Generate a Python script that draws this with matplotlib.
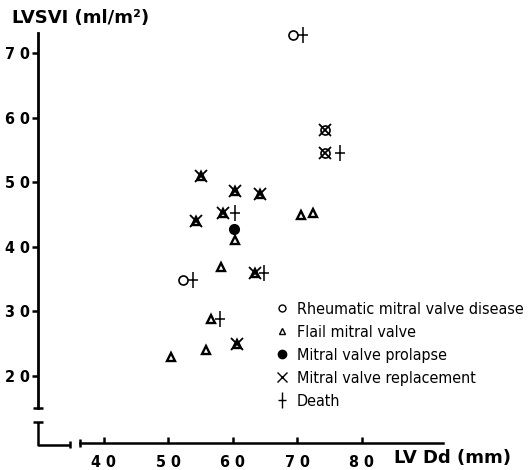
import numpy as np
import matplotlib
matplotlib.use('Agg')
import matplotlib.pyplot as plt
from matplotlib.path import Path
from matplotlib.lines import Line2D

plt.rcParams['font.family'] = ['DejaVu Sans']
plt.rcParams['font.stretch'] = 'condensed'

# data (LVDd mm, LVSVI ml/m2)
rheum_x = [69.3, 52.2, 74.3, 74.3]
rheum_y = [72.8, 34.9, 58.1, 54.5]

flail_x = [55.0, 60.3, 64.2, 58.5, 54.2, 60.3, 70.5, 72.4, 58.2, 63.4, 56.6, 55.8, 60.6, 50.4]
flail_y = [50.9, 48.7, 48.1, 45.2, 44.0, 41.1, 44.9, 45.2, 36.9, 36.0, 28.9, 24.0, 24.95, 22.9]

prolapse_x = [60.2]
prolapse_y = [42.7]

repl_x = [74.3, 74.3, 55.0, 60.3, 64.2, 58.5, 54.2, 63.4, 60.6]
repl_y = [58.1, 54.5, 50.9, 48.7, 48.1, 45.2, 44.0, 36.0, 24.95]

death_x = [70.9, 76.6, 60.3, 64.8, 53.8, 58.0]
death_y = [72.8, 54.5, 45.2, 36.0, 34.9, 28.9]

xticks = [40, 50, 60, 70, 80]
yticks = [20, 30, 40, 50, 60, 70]
labels = ['Rheumatic mitral valve disease', 'Flail mitral valve',
          'Mitral valve prolapse', 'Mitral valve replacement', 'Death']

# death sign: long vertical, short bar
death_mk = Path([(0, -1), (0, 1), (-0.55, 0.05), (0.55, 0.05)],
                [Path.MOVETO, Path.LINETO, Path.MOVETO, Path.LINETO])

fig = plt.figure(figsize=(5.28, 4.70), dpi=100)
ax = fig.add_axes([0, 0, 1, 1])
ax.set_xlim(23.876, 105.74)
ax.set_ylim(5.449, 78.204)

ax.plot(rheum_x, rheum_y, 'o', ms=6.5, mfc='white', mec='black', mew=1.2, ls='none')
ax.plot(flail_x, flail_y, '^', ms=5.5, mfc='white', mec='black', mew=1.7, ls='none')
ax.plot(prolapse_x, prolapse_y, 'o', ms=7, color='black', ls='none')
ax.plot(repl_x, repl_y, 'x', ms=8, color='black', mew=1.3, ls='none')
ax.plot(death_x, death_y, marker=death_mk, ms=12, color='black', mew=1.1, ls='none')

# axes
for s in ['top', 'right']:
    ax.spines[s].set_visible(False)
ax.spines['left'].set_position(('data', 29.77))
ax.spines['left'].set_bounds(15.05, 73.1)
ax.spines['left'].set_linewidth(2)
ax.spines['bottom'].set_position(('data', 9.63))
ax.spines['bottom'].set_bounds(36.28, 92.56)
ax.spines['bottom'].set_linewidth(1.8)

ax.set_yticks(yticks)
ax.set_yticklabels([' '.join(str(t)) for t in yticks], fontsize=11.5, fontweight='bold')
ax.set_xticks(xticks)
ax.set_xticklabels([' '.join(str(t)) for t in xticks], fontsize=11.5, fontweight='bold')
ax.tick_params(axis='y', direction='out', length=4, width=1.8, pad=2)
ax.tick_params(axis='x', direction='in', length=4, width=1.8, pad=9)

# axis break decorations
k = dict(color='black', lw=1.8, clip_on=False, solid_capstyle='butt')
ax.plot([29.0, 30.5], [15.05, 15.05], **k)
ax.plot([29.0, 30.5], [12.9, 12.9], **k)
ax.plot([29.77, 29.77, 34.7], [12.9, 9.3, 9.3], **k)
ax.plot([34.7, 34.7], [8.8, 10.0], **k)
ax.plot([36.28, 36.28], [9.0, 10.2], **k)

ax.text(12 / 6.45 + 23.876, 78.204 - 18 / 6.46, 'LVSVI (ml/m²)', fontsize=13,
        fontweight='bold', fontstretch='normal', va='center', ha='left')
ax.text(40 + (394 - 104) / 6.45, 78.204 - 458 / 6.46, 'LV Dd (mm)', fontsize=13,
        fontweight='bold', fontstretch='normal', va='center', ha='left')

handles = [
    Line2D([], [], marker='o', ms=5, mfc='white', mec='black', mew=1, ls='none'),
    Line2D([], [], marker='^', ms=4.5, mfc='white', mec='black', mew=1, ls='none'),
    Line2D([], [], marker='o', ms=6, color='black', ls='none'),
    Line2D([], [], marker='x', ms=7, color='black', mew=1, ls='none'),
    Line2D([], [], marker=death_mk, ms=11, color='black', mew=1, ls='none'),
]
ax.legend(handles, labels, loc='upper left', bbox_to_anchor=(268 / 528, 1 - 294 / 470),
          frameon=False, handlelength=0.8, handletextpad=0.5, labelspacing=0.5,
          borderpad=0, prop={'size': 11.5})

fig.savefig('out.png', dpi=100)
